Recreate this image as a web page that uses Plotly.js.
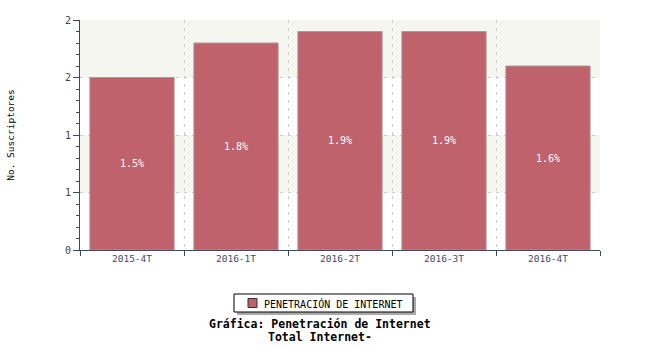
<!DOCTYPE html>
<html>
<head>
<meta charset="utf-8">
<script src="https://cdn.plot.ly/plotly-3.0.1.min.js"></script>
<style>html,body{margin:0;padding:0;background:#fff;}#chart{width:650px;height:350px;}</style>
</head>
<body>
<div id="chart"></div>
<script>
var categories = ['2015-4T', '2016-1T', '2016-2T', '2016-3T', '2016-4T'];
var penetracion = [1.5, 1.8, 1.9, 1.9, 1.6];
var seriesName = 'PENETRACIÓN DE INTERNET';
var yTickVals = [0, 0.5, 1, 1.5, 2];
var yTickText = ['0', '1', '1', '2', '2'];
var bands = [[0.5, 1.0], [1.5, 2.0]];
var titleLines = ['Gráfica: Penetración de Internet', 'Total Internet-'];

var mono = 'DejaVu Sans Mono, Liberation Mono, monospace';
var axisColor = '#3b4a6b';
var barColor = '#bf626b';

var trace = {
  type: 'bar',
  x: categories,
  y: penetracion,
  name: seriesName,
  width: 0.81,
  marker: {color: barColor, line: {color: '#a89a9a', width: 1}},
  texttemplate: '%{y:.1f}%',
  textposition: 'inside',
  insidetextanchor: 'middle',
  textfont: {family: mono, size: 10, color: '#ffffff'},
  hoverinfo: 'x+y'
};

function px2x(px) { return (px - 80) / 520; }
function px2y(py) { return (250 - py) / 230; }

var shapes = bands.map(function (b) {
  return {type: 'rect', xref: 'paper', yref: 'y', x0: 0, x1: 1, y0: b[0], y1: b[1],
          fillcolor: '#f6f6f1', line: {width: 0}, layer: 'below'};
});
// legend box (shadow, frame, swatch)
shapes.push({type: 'rect', xref: 'paper', yref: 'paper', x0: px2x(237), x1: px2x(416), y0: px2y(315), y1: px2y(297),
             fillcolor: '#aaaaaa', line: {width: 0}, layer: 'above'});
shapes.push({type: 'rect', xref: 'paper', yref: 'paper', x0: px2x(234), x1: px2x(413), y0: px2y(312), y1: px2y(294),
             fillcolor: '#ffffff', line: {color: '#000000', width: 1}, layer: 'above'});
shapes.push({type: 'rect', xref: 'paper', yref: 'paper', x0: px2x(248), x1: px2x(257), y0: px2y(307.5), y1: px2y(298.5),
             fillcolor: barColor, line: {color: '#333333', width: 1}, layer: 'above'});

var annotations = titleLines.map(function (t, i) {
  return {text: '<b>' + t + '</b>', xref: 'paper', yref: 'paper', x: px2x(320), y: px2y(324 + i * 13),
          xanchor: 'center', yanchor: 'middle', showarrow: false,
          font: {family: mono, size: 11.5, color: '#000'}};
});
annotations.push({text: seriesName, xref: 'paper', yref: 'paper', x: px2x(262), y: px2y(303.5),
                  xanchor: 'left', yanchor: 'middle', showarrow: false,
                  font: {family: mono, size: 10, color: '#000'}});

var layout = {
  width: 650, height: 350,
  margin: {l: 80, r: 50, t: 20, b: 100},
  paper_bgcolor: '#ffffff', plot_bgcolor: 'rgba(0,0,0,0)',
  font: {family: mono, size: 10, color: '#333'},
  showlegend: false,
  annotations: annotations,
  xaxis: {type: 'category', tickson: 'boundaries', ticks: 'outside', ticklen: 5, tickcolor: axisColor,
          showline: true, linecolor: axisColor, linewidth: 1,
          showgrid: true, gridcolor: '#cccccc', griddash: '3px,5px', gridwidth: 1,
          tickfont: {family: mono, size: 9.5, color: axisColor}, range: [-0.5, 4.5], fixedrange: true},
  yaxis: {range: [0, 2], tickmode: 'array', tickvals: yTickVals, ticktext: yTickText,
          ticks: 'outside', ticklen: 6, tickcolor: axisColor,
          showline: true, linecolor: axisColor, linewidth: 1,
          showgrid: true, gridcolor: '#cccccc', griddash: '3px,5px', gridwidth: 1, zeroline: false,
          minor: {dtick: 0.1, tick0: 0, ticks: 'outside', ticklen: 3, tickcolor: axisColor, showgrid: false},
          tickfont: {family: mono, size: 10, color: '#444'},
          title: {text: 'No. Suscriptores', standoff: 48, font: {family: mono, size: 9.5, color: '#000'}}},
  shapes: shapes,
  bargap: 0.19
};

Plotly.newPlot('chart', [trace], layout, {displayModeBar: false, staticPlot: true});
</script>
</body>
</html>
